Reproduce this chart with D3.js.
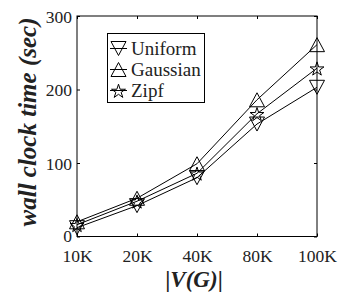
<!DOCTYPE html>
<html><head><meta charset="utf-8">
<script src="https://cdn.jsdelivr.net/npm/d3@7"></script>
<style>body{margin:0;background:#fff}svg{display:block}</style>
</head><body><svg id="c" width="341" height="295"></svg>
<script>
const categories = ["10K","20K","40K","80K","100K"];
const uniform  = [12, 42, 80, 153, 203];
const gaussian = [20, 52, 99, 186, 261];
const zipf     = [16, 48, 86, 167, 229];
const seriesNames = ["Uniform","Gaussian","Zipf"];
const yTicks = [0,100,200,300];
const FONT = "'Liberation Serif', 'Times New Roman', Times, serif";

const svg = d3.select("#c").attr("font-family",FONT);
const L=77,R=317,T=16,B=236.5;
const x = d3.scalePoint().domain(categories).range([L,R]).padding(0);
const y = d3.scaleLinear().domain([0,300]).range([B,T]);

svg.append("rect").attr("x",L).attr("y",T).attr("width",R-L).attr("height",B-T)
  .attr("fill","none").attr("stroke","#000").attr("stroke-width",1);

const ax = svg.append("g").attr("transform",`translate(0,${B})`)
  .call(d3.axisBottom(x).tickSize(-3).tickPadding(12));
const ay = svg.append("g").attr("transform",`translate(${L},0)`)
  .call(d3.axisLeft(y).tickValues(yTicks).tickSize(-3).tickPadding(5));
const ayr = svg.append("g").attr("transform",`translate(${R},0)`)
  .call(d3.axisRight(y).tickValues(yTicks).tickSize(-3).tickFormat(""));
const axt = svg.append("g").attr("transform",`translate(0,${T})`)
  .call(d3.axisTop(x).tickSize(-3).tickFormat(""));
[ax,ay,ayr,axt].forEach(g=>{g.attr("font-family",FONT);g.select(".domain").remove();g.selectAll("line").attr("stroke","#000");});
svg.selectAll(".tick text").attr("font-size",17.5).attr("fill","#222").attr("font-family",FONT);
ax.selectAll(".tick text").attr("y",13.5).attr("dy","0.71em");
ay.selectAll(".tick text").attr("dy","0.35em");
ay.selectAll(".tick").filter(d=>d===0).select("text").attr("dy","0.3em");

// MATLAB-like markers centred on their bounding box
const W=15, H=14;
const triUp = `M0,${-H/2}L${W/2},${H/2}L${-W/2},${H/2}Z`;
const triDown = `M0,${H/2}L${W/2},${-H/2}L${-W/2},${-H/2}Z`;
const star = d3.symbol().type(d3.symbolStar).size(60)();
const shapes = [triDown, triUp, star];
const dyStar = 1;

const data = [uniform,gaussian,zipf];
const line = d3.line().x((d,i)=>x(categories[i])).y(d=>y(d));
data.forEach((s,k)=>{
  svg.append("path").attr("d",line(s)).attr("fill","none").attr("stroke","#000").attr("stroke-width",1);
  svg.selectAll(null).data(s).enter().append("path")
    .attr("d",shapes[k])
    .attr("transform",(d,i)=>`translate(${x(categories[i])},${y(d)+(k===2?dyStar:0)})`)
    .attr("fill","none").attr("stroke","#000").attr("stroke-width",1);
});

const lg = svg.append("g");
lg.append("rect").attr("x",107.5).attr("y",33.5).attr("width",97).attr("height",69)
  .attr("fill","#fff").attr("stroke","#000").attr("stroke-width",1);
seriesNames.forEach((n,k)=>{
  const yy = 48.5 + k*21;
  lg.append("line").attr("x1",110).attr("x2",127).attr("y1",yy).attr("y2",yy).attr("stroke","#000");
  lg.append("path").attr("d",shapes[k]).attr("transform",`translate(118.5,${yy+(k===2?dyStar:0)})`)
    .attr("fill","none").attr("stroke","#000");
  lg.append("text").attr("x",131).attr("y",yy).attr("dy","0.33em").attr("font-size",19).attr("fill","#222")
    .attr("font-family",FONT).text(n);
});

svg.append("text").attr("transform","translate(36,122) rotate(-90)").attr("text-anchor","middle")
  .attr("font-family",FONT).attr("font-size",25).attr("font-weight","bold").attr("font-style","italic").attr("fill","#222")
  .text("wall clock time (sec)");
const xl = svg.append("text").attr("x",194).attr("y",287).attr("text-anchor","middle")
  .attr("font-family",FONT).attr("font-size",23).attr("font-weight","bold").attr("fill","#222");
xl.append("tspan").text("|");
xl.append("tspan").attr("font-style","italic").text("V(G)");
xl.append("tspan").text("|");
</script></body></html>
